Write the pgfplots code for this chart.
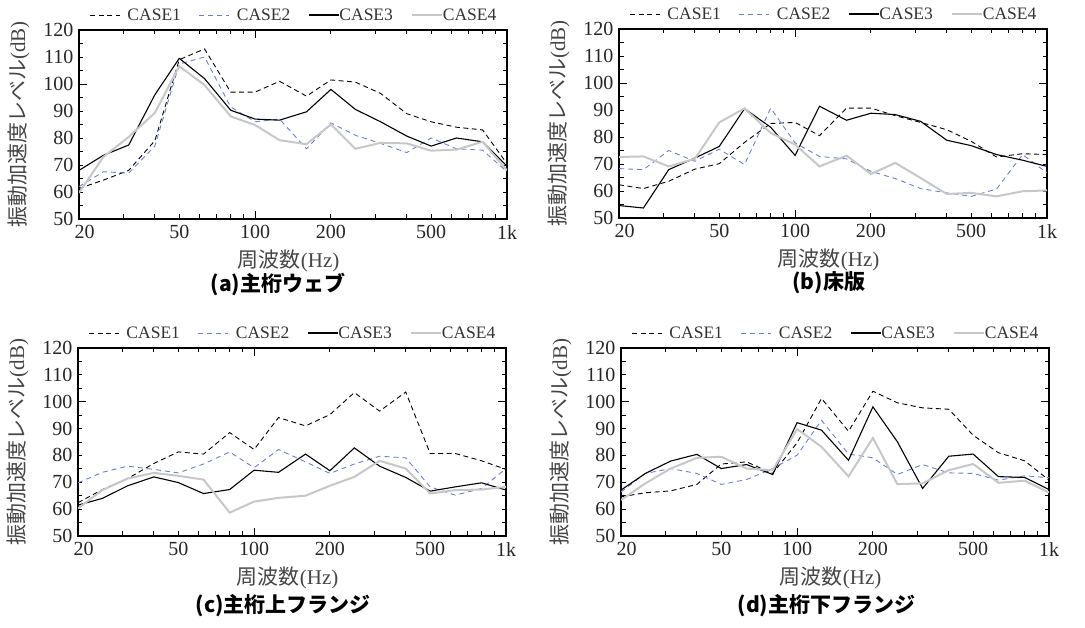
\documentclass[border=0pt]{standalone}
\usepackage{fontspec}
\setmainfont{Liberation Serif}
\newfontfamily\jp{Noto Sans CJK JP}
\usepackage{pgfplots}
\pgfplotsset{compat=1.18}
\definecolor{cblue}{rgb}{0.42,0.50,0.82}
\definecolor{cgray}{rgb}{0.78,0.78,0.78}
\definecolor{labgray}{rgb}{0.27,0.27,0.27}
\pgfplotsset{
  legend image code/.code={\draw[#1] (0pt,0pt) -- (30pt,0pt);},
  c1/.style={black, line width=0.9pt, dash pattern=on 5pt off 3.5pt},
  c2/.style={cblue, line width=0.9pt, dash pattern=on 5pt off 4pt},
  c3/.style={black, line width=1.1pt},
  c4/.style={cgray, line width=2.0pt},
}
\pgfplotsset{
  every axis/.append style={
    scale only axis, width=428pt, height=189pt, anchor=south west,
    xmin=20, xmax=1000, ymin=50, ymax=120,
    xtick={20,50,100,200,500,1000}, xticklabels={\hspace*{11pt}20,50,100,200,500,1k},
    minor xtick={30,40,60,70,80,90,300,400,600,700,800,900},
    ytick={50,60,...,120}, minor ytick={55,65,...,115},
    extra x ticks={100}, extra x tick labels={},
    extra y ticks={100}, extra y tick labels={},
    extra tick style={major tick length=8pt},
    tick align=inside, major tick length=4.5pt, minor tick length=4.5pt,
    axis line style={line width=1.2pt},
    every tick/.style={black, line width=0.9pt},
    /pgf/number format/assume math mode=true,
    tick label style={font=\fontsize{20}{23}\selectfont, color=black!85},
    xticklabel style={yshift=-3pt},
    yticklabel style={xshift=-2pt},
    xlabel={{\jp 周波数}(Hz)},
    ylabel={{\jp 振動加速度レベル}(dB)},
    label style={font=\fontsize{21}{24}\selectfont, color=labgray},
    xlabel style={at={(axis description cs:0.49,-0.222)}, anchor=center},
    ylabel style={at={(axis description cs:-0.141,0.5)}, anchor=center},
    title style={font=\jp\bfseries\fontsize{21}{25}\selectfont, anchor=center},
    legend columns=4,
    legend style={draw=none, fill=none, at={(0.5,1)}, anchor=center, yshift=15pt,
      font=\fontsize{17.5}{20}\selectfont, text=black!80,
      nodes={inner xsep=0pt},
      /tikz/every even column/.append style={column sep=18pt}},
  },
}
\begin{document}
\begin{tikzpicture}[x=1pt,y=1pt]
\useasboundingbox (0,0) rectangle (1085,628);
% (a)
\begin{axis}[xmode=log, at={(79pt,409pt)}, title={(a)主桁ウェブ}, title style={at={(0.465,-0.376)}}]
\addplot[c1] coordinates {(20,61.3)(25,64.4)(31.5,68)(40,79)(50,109)(63,113)(80,97)(100,97)(125,101)(160,95.5)(200,101.5)(250,100.7)(315,96.5)(400,89)(500,86)(630,84)(800,83)(1000,70.5)};
\addplot[c2] coordinates {(20,62)(25,67.5)(31.5,67)(40,77)(50,107.4)(63,110)(80,91.5)(100,86)(125,87)(160,76)(200,85.6)(250,81)(315,78)(400,74.6)(500,80)(630,76)(800,75.5)(1000,67.5)};
\addplot[c3] coordinates {(20,68)(25,73.6)(31.5,77.4)(40,96)(50,109.5)(63,102)(80,90.3)(100,87)(125,86.6)(160,89.7)(200,98)(250,90.6)(315,86)(400,80.7)(500,77)(630,80)(800,78.6)(1000,69.6)};
\addplot[c4] coordinates {(20,59.7)(25,73)(31.5,80.4)(40,89.3)(50,106.6)(63,99.6)(80,88)(100,84.8)(125,79.2)(160,77.7)(200,85)(250,76)(315,78.2)(400,78)(500,75.3)(630,75.7)(800,78.6)(1000,68)};
\legend{\hspace*{7pt}CASE1,\hspace*{7pt}CASE2,CASE3,CASE4}
\end{axis}
% (b)
\begin{axis}[xmode=log, at={(619pt,410pt)}, title={(b)床版}, title style={at={(0.49,-0.376)}}]
\addplot[c1] coordinates {(20,62.3)(25,60.9)(31.5,63.6)(40,68.1)(50,70.1)(63,78)(80,85)(100,85.4)(125,80.5)(160,90.7)(200,90.7)(250,87.9)(315,85.4)(400,82.7)(500,78.4)(630,72.6)(800,73.8)(1000,73.5)};
\addplot[c2] coordinates {(20,68.3)(25,67.9)(31.5,75)(40,71)(50,75.5)(63,69.8)(80,90.7)(100,77.8)(125,72.8)(160,71.9)(200,67.3)(250,64.6)(315,60.9)(400,59.3)(500,58)(630,60.7)(800,73.5)(1000,66.7)};
\addplot[c3] coordinates {(20,54.6)(25,53.7)(31.5,67.9)(40,72.2)(50,76.5)(63,90.5)(80,83.6)(100,73.2)(125,91.4)(160,86.2)(200,88.8)(250,88.3)(315,85.8)(400,78.8)(500,76.8)(630,73.5)(800,71.4)(1000,69.1)};
\addplot[c4] coordinates {(20,72.6)(25,72.8)(31.5,69.1)(40,71.9)(50,85.4)(63,90.6)(80,81.5)(100,77.2)(125,69.1)(160,73.1)(200,66.3)(250,70.4)(315,64.8)(400,58.9)(500,59.3)(630,58)(800,59.9)(1000,60.2)};
\legend{\hspace*{7pt}CASE1,\hspace*{7pt}CASE2,CASE3,CASE4}
\end{axis}
% (c)
\begin{axis}[xmode=log, at={(78pt,92pt)}, height=188pt, title={(c)主桁上フランジ}, title style={at={(0.48,-0.404)}}]
\addplot[c1] coordinates {(20,62.4)(25,67.3)(31.5,71.4)(40,77)(50,81.3)(63,80.5)(80,88.5)(100,82.2)(125,94.1)(160,91)(200,95.2)(250,103.4)(315,96.5)(400,103.6)(500,80.7)(630,80.7)(800,78)(1000,74.8)};
\addplot[c2] coordinates {(20,69.8)(25,73.7)(31.5,76)(40,74.8)(50,73.5)(63,76.8)(80,81.3)(100,75.4)(125,82.2)(160,77.6)(200,73.3)(250,76.8)(315,79.7)(400,79.1)(500,68.3)(630,65.2)(800,67.7)(1000,75.1)};
\addplot[c3] coordinates {(20,61.5)(25,64)(31.5,68.7)(40,72)(50,69.9)(63,65.8)(80,67.3)(100,74.5)(125,73.7)(160,80.5)(200,74.3)(250,82.8)(315,76)(400,71.8)(500,66.7)(630,68.3)(800,69.8)(1000,67.1)};
\addplot[c4] coordinates {(20,60.3)(25,67.1)(31.5,71.4)(40,73.5)(50,72.4)(63,71)(80,58.7)(100,62.8)(125,64.2)(160,65)(200,68.7)(250,72)(315,78)(400,75.1)(500,65.8)(630,67.1)(800,67.3)(1000,68.3)};
\legend{\hspace*{7pt}CASE1,\hspace*{7pt}CASE2,CASE3,CASE4}
\end{axis}
% (d)
\begin{axis}[xmode=log, at={(621pt,92pt)}, height=188pt, title={(d)主桁下フランジ}, title style={at={(0.48,-0.404)}}]
\addplot[c1] coordinates {(20,64.6)(25,66.1)(31.5,66.8)(40,69.2)(50,76.8)(63,77.6)(80,73.3)(100,84.7)(125,101.2)(160,89)(200,103.9)(250,99.6)(315,97.7)(400,97.2)(500,87.5)(630,81)(800,78)(1000,70.8)};
\addplot[c2] coordinates {(20,66.4)(25,73.3)(31.5,75.1)(40,73.3)(50,69.2)(63,71)(80,75.1)(100,80.1)(125,93.1)(160,80.5)(200,79.1)(250,72.9)(315,76.6)(400,73.5)(500,73.3)(630,70.8)(800,72.4)(1000,71.7)};
\addplot[c3] coordinates {(20,67.1)(25,73.3)(31.5,77.9)(40,80.4)(50,75.1)(63,76.6)(80,72.9)(100,92.2)(125,89.4)(160,78.2)(200,98.1)(250,85.1)(315,67.7)(400,79.7)(500,80.5)(630,72.1)(800,71.8)(1000,67.3)};
\addplot[c4] coordinates {(20,63.4)(25,69.6)(31.5,75.1)(40,79.1)(50,79.5)(63,75.1)(80,74.5)(100,89.8)(125,83.2)(160,72.2)(200,86.5)(250,69.3)(315,69.6)(400,74.5)(500,76.8)(630,69.8)(800,70.6)(1000,66.2)};
\legend{\hspace*{7pt}CASE1,\hspace*{7pt}CASE2,CASE3,CASE4}
\end{axis}
\end{tikzpicture}
\end{document}
